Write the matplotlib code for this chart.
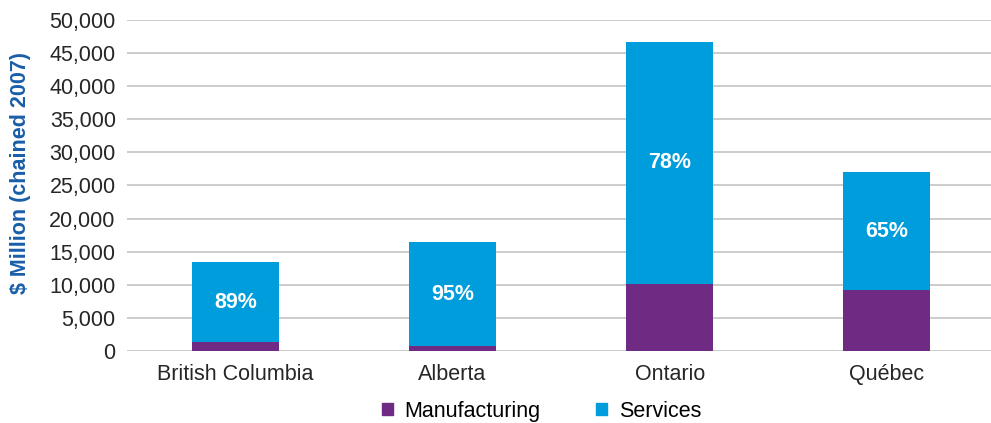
import numpy as np
import matplotlib.pyplot as plt
from matplotlib.ticker import FuncFormatter
from matplotlib.patches import Patch

plt.rcParams['font.family'] = ['Liberation Sans', 'DejaVu Sans']

# 数据（单位：百万元，链式2007）
provinces = ['British Columbia', 'Alberta', 'Ontario', 'Québec']
manufacturing = [1400, 750, 10100, 9200]
services = [12000, 15700, 36600, 17800]
service_share = ['89%', '95%', '78%', '65%']

PURPLE = '#6F2A84'
BLUE = '#009DDC'

fig = plt.figure(figsize=(9.91, 4.23), dpi=100)
ax = fig.add_axes([0.128, 0.170, 0.872, 0.783])

x = np.arange(len(provinces))
w = 0.40
ax.bar(x, manufacturing, width=w, color=PURPLE, zorder=3)
ax.bar(x, services, width=w, bottom=manufacturing, color=BLUE, zorder=3)

# 服务业占比标签，放在服务业段中间
for xi, m, s, lab in zip(x, manufacturing, services, service_share):
    ax.text(xi, m + s / 2, lab, ha='center', va='center', color='white',
            fontsize=15.5, fontweight='bold', zorder=4)

ax.set_xlim(-0.5, 3.5 - 0.02)
ax.set_ylim(0, 50000)
ax.set_yticks(np.arange(0, 50001, 5000))
ax.yaxis.set_major_formatter(FuncFormatter(lambda v, p: f'{int(v):,}'))
ax.set_xticks(x)
ax.set_xticklabels(provinces)
ax.tick_params(axis='both', length=0, labelsize=15.5, colors='#262626')
ax.tick_params(axis='x', pad=9)
ax.tick_params(axis='y', pad=8)

ax.grid(axis='y', color='#C8C8C8', linewidth=1.3, zorder=0)
ax.set_axisbelow(True)
for sp in ax.spines.values():
    sp.set_visible(False)

ax.set_ylabel('$ Million (chained 2007)', color='#1A5EA8', fontsize=15.5,
              fontweight='bold')
ax.yaxis.set_label_coords(-0.111, 0.538)

handles = [Patch(color=PURPLE, label='Manufacturing'),
           Patch(color=BLUE, label='Services')]
fig.legend(handles=handles, loc='center', bbox_to_anchor=(0.5465, 0.028),
           ncol=2, frameon=False, fontsize=15.5, handlelength=0.5,
           handleheight=0.5, columnspacing=2.6, handletextpad=0.55)

fig.savefig('out.png', dpi=100)
